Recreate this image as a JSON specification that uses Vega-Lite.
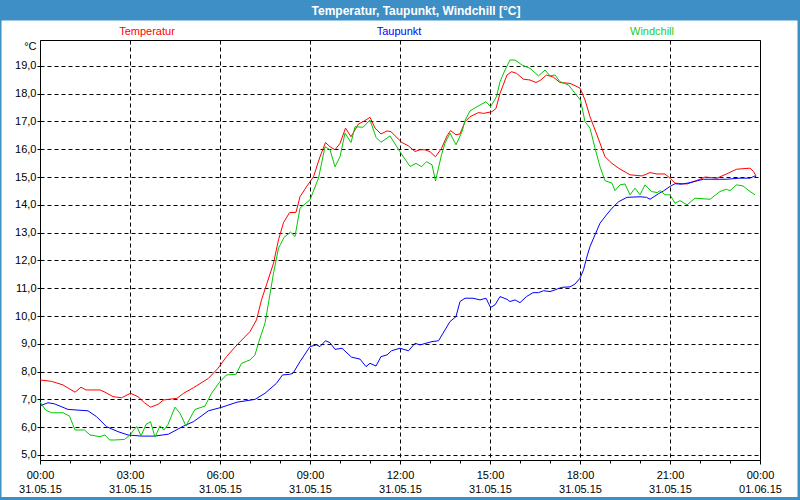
{
"$schema": "https://vega.github.io/schema/vega-lite/v6.json",
"width": 720, "height": 420,
"autosize": {"type": "none"},
"padding": {"left": 40, "top": 40, "right": 40, "bottom": 40},
"background": "#ffffff",
"config": {"view": {"stroke": "#000000", "strokeWidth": 1}, "font": "Liberation Sans"},
"datasets": {
"temps": [
{"t":"2015-05-31T00:00","s":"Temperatur","v":7.70},{"t":"2015-05-31T00:23","s":"Temperatur","v":7.65},{"t":"2015-05-31T00:46","s":"Temperatur","v":7.52},{"t":"2015-05-31T01:10","s":"Temperatur","v":7.26},{"t":"2015-05-31T01:22","s":"Temperatur","v":7.44},{"t":"2015-05-31T01:32","s":"Temperatur","v":7.34},{"t":"2015-05-31T02:00","s":"Temperatur","v":7.34},{"t":"2015-05-31T02:10","s":"Temperatur","v":7.26},{"t":"2015-05-31T02:26","s":"Temperatur","v":7.10},{"t":"2015-05-31T02:43","s":"Temperatur","v":7.06},{"t":"2015-05-31T03:01","s":"Temperatur","v":7.22},{"t":"2015-05-31T03:16","s":"Temperatur","v":7.10},{"t":"2015-05-31T03:29","s":"Temperatur","v":6.88},{"t":"2015-05-31T03:41","s":"Temperatur","v":6.72},{"t":"2015-05-31T03:56","s":"Temperatur","v":6.82},{"t":"2015-05-31T04:07","s":"Temperatur","v":6.98},{"t":"2015-05-31T04:34","s":"Temperatur","v":7.04},{"t":"2015-05-31T04:47","s":"Temperatur","v":7.22},{"t":"2015-05-31T05:07","s":"Temperatur","v":7.42},{"t":"2015-05-31T05:37","s":"Temperatur","v":7.76},{"t":"2015-05-31T05:56","s":"Temperatur","v":8.12},{"t":"2015-05-31T06:13","s":"Temperatur","v":8.54},{"t":"2015-05-31T06:34","s":"Temperatur","v":8.96},{"t":"2015-05-31T07:00","s":"Temperatur","v":9.44},{"t":"2015-05-31T07:13","s":"Temperatur","v":9.86},{"t":"2015-05-31T07:23","s":"Temperatur","v":10.58},{"t":"2015-05-31T07:34","s":"Temperatur","v":11.18},{"t":"2015-05-31T07:47","s":"Temperatur","v":11.90},{"t":"2015-05-31T07:57","s":"Temperatur","v":12.74},{"t":"2015-05-31T08:07","s":"Temperatur","v":13.36},{"t":"2015-05-31T08:19","s":"Temperatur","v":13.72},{"t":"2015-05-31T08:32","s":"Temperatur","v":13.73},{"t":"2015-05-31T08:40","s":"Temperatur","v":14.29},{"t":"2015-05-31T08:53","s":"Temperatur","v":14.65},{"t":"2015-05-31T09:07","s":"Temperatur","v":15.01},{"t":"2015-05-31T09:20","s":"Temperatur","v":15.73},{"t":"2015-05-31T09:31","s":"Temperatur","v":16.24},{"t":"2015-05-31T09:40","s":"Temperatur","v":16.09},{"t":"2015-05-31T09:50","s":"Temperatur","v":15.98},{"t":"2015-05-31T10:00","s":"Temperatur","v":16.21},{"t":"2015-05-31T10:11","s":"Temperatur","v":16.76},{"t":"2015-05-31T10:22","s":"Temperatur","v":16.45},{"t":"2015-05-31T10:37","s":"Temperatur","v":16.91},{"t":"2015-05-31T10:50","s":"Temperatur","v":17.03},{"t":"2015-05-31T11:00","s":"Temperatur","v":17.15},{"t":"2015-05-31T11:10","s":"Temperatur","v":16.76},{"t":"2015-05-31T11:22","s":"Temperatur","v":16.55},{"t":"2015-05-31T11:34","s":"Temperatur","v":16.66},{"t":"2015-05-31T11:42","s":"Temperatur","v":16.63},{"t":"2015-05-31T12:04","s":"Temperatur","v":16.24},{"t":"2015-05-31T12:17","s":"Temperatur","v":16.12},{"t":"2015-05-31T12:30","s":"Temperatur","v":15.92},{"t":"2015-05-31T12:40","s":"Temperatur","v":15.98},{"t":"2015-05-31T12:50","s":"Temperatur","v":15.98},{"t":"2015-05-31T13:00","s":"Temperatur","v":15.91},{"t":"2015-05-31T13:11","s":"Temperatur","v":15.73},{"t":"2015-05-31T13:23","s":"Temperatur","v":16.03},{"t":"2015-05-31T13:34","s":"Temperatur","v":16.48},{"t":"2015-05-31T13:41","s":"Temperatur","v":16.67},{"t":"2015-05-31T13:52","s":"Temperatur","v":16.52},{"t":"2015-05-31T14:00","s":"Temperatur","v":16.55},{"t":"2015-05-31T14:10","s":"Temperatur","v":16.99},{"t":"2015-05-31T14:20","s":"Temperatur","v":17.17},{"t":"2015-05-31T14:37","s":"Temperatur","v":17.32},{"t":"2015-05-31T14:47","s":"Temperatur","v":17.29},{"t":"2015-05-31T15:04","s":"Temperatur","v":17.35},{"t":"2015-05-31T15:12","s":"Temperatur","v":17.47},{"t":"2015-05-31T15:20","s":"Temperatur","v":18.01},{"t":"2015-05-31T15:34","s":"Temperatur","v":18.67},{"t":"2015-05-31T15:43","s":"Temperatur","v":18.79},{"t":"2015-05-31T15:53","s":"Temperatur","v":18.73},{"t":"2015-05-31T16:07","s":"Temperatur","v":18.52},{"t":"2015-05-31T16:20","s":"Temperatur","v":18.49},{"t":"2015-05-31T16:32","s":"Temperatur","v":18.40},{"t":"2015-05-31T16:40","s":"Temperatur","v":18.47},{"t":"2015-05-31T16:53","s":"Temperatur","v":18.67},{"t":"2015-05-31T17:07","s":"Temperatur","v":18.59},{"t":"2015-05-31T17:20","s":"Temperatur","v":18.40},{"t":"2015-05-31T17:40","s":"Temperatur","v":18.37},{"t":"2015-05-31T18:00","s":"Temperatur","v":18.20},{"t":"2015-05-31T18:10","s":"Temperatur","v":17.77},{"t":"2015-05-31T18:20","s":"Temperatur","v":17.17},{"t":"2015-05-31T18:34","s":"Temperatur","v":16.51},{"t":"2015-05-31T18:50","s":"Temperatur","v":15.73},{"t":"2015-05-31T19:04","s":"Temperatur","v":15.49},{"t":"2015-05-31T19:17","s":"Temperatur","v":15.32},{"t":"2015-05-31T19:40","s":"Temperatur","v":15.08},{"t":"2015-05-31T20:04","s":"Temperatur","v":15.04},{"t":"2015-05-31T20:20","s":"Temperatur","v":15.16},{"t":"2015-05-31T20:34","s":"Temperatur","v":15.11},{"t":"2015-05-31T20:50","s":"Temperatur","v":15.11},{"t":"2015-05-31T21:00","s":"Temperatur","v":14.96},{"t":"2015-05-31T21:10","s":"Temperatur","v":14.78},{"t":"2015-05-31T21:34","s":"Temperatur","v":14.75},{"t":"2015-05-31T22:00","s":"Temperatur","v":14.92},{"t":"2015-05-31T22:10","s":"Temperatur","v":15.00},{"t":"2015-05-31T22:34","s":"Temperatur","v":14.96},{"t":"2015-05-31T22:53","s":"Temperatur","v":15.11},{"t":"2015-05-31T23:13","s":"Temperatur","v":15.28},{"t":"2015-05-31T23:40","s":"Temperatur","v":15.32},{"t":"2015-05-31T23:47","s":"Temperatur","v":15.20},{"t":"2015-05-31T23:52","s":"Temperatur","v":15.04},
{"t":"2015-05-31T00:00","s":"Taupunkt","v":6.77},{"t":"2015-05-31T00:16","s":"Taupunkt","v":6.88},{"t":"2015-05-31T00:29","s":"Taupunkt","v":6.84},{"t":"2015-05-31T00:56","s":"Taupunkt","v":6.64},{"t":"2015-05-31T01:36","s":"Taupunkt","v":6.59},{"t":"2015-05-31T01:53","s":"Taupunkt","v":6.38},{"t":"2015-05-31T02:13","s":"Taupunkt","v":6.02},{"t":"2015-05-31T02:36","s":"Taupunkt","v":5.84},{"t":"2015-05-31T02:56","s":"Taupunkt","v":5.72},{"t":"2015-05-31T03:23","s":"Taupunkt","v":5.68},{"t":"2015-05-31T03:49","s":"Taupunkt","v":5.68},{"t":"2015-05-31T04:17","s":"Taupunkt","v":5.75},{"t":"2015-05-31T04:47","s":"Taupunkt","v":6.04},{"t":"2015-05-31T05:07","s":"Taupunkt","v":6.20},{"t":"2015-05-31T05:37","s":"Taupunkt","v":6.59},{"t":"2015-05-31T06:04","s":"Taupunkt","v":6.72},{"t":"2015-05-31T06:34","s":"Taupunkt","v":6.90},{"t":"2015-05-31T07:10","s":"Taupunkt","v":7.00},{"t":"2015-05-31T07:30","s":"Taupunkt","v":7.22},{"t":"2015-05-31T07:53","s":"Taupunkt","v":7.58},{"t":"2015-05-31T08:05","s":"Taupunkt","v":7.88},{"t":"2015-05-31T08:19","s":"Taupunkt","v":7.90},{"t":"2015-05-31T08:26","s":"Taupunkt","v":7.94},{"t":"2015-05-31T08:40","s":"Taupunkt","v":8.36},{"t":"2015-05-31T09:00","s":"Taupunkt","v":8.90},{"t":"2015-05-31T09:13","s":"Taupunkt","v":8.96},{"t":"2015-05-31T09:20","s":"Taupunkt","v":8.90},{"t":"2015-05-31T09:31","s":"Taupunkt","v":9.11},{"t":"2015-05-31T09:40","s":"Taupunkt","v":9.04},{"t":"2015-05-31T09:50","s":"Taupunkt","v":8.80},{"t":"2015-05-31T10:04","s":"Taupunkt","v":8.84},{"t":"2015-05-31T10:23","s":"Taupunkt","v":8.52},{"t":"2015-05-31T10:40","s":"Taupunkt","v":8.45},{"t":"2015-05-31T10:52","s":"Taupunkt","v":8.18},{"t":"2015-05-31T11:00","s":"Taupunkt","v":8.30},{"t":"2015-05-31T11:12","s":"Taupunkt","v":8.20},{"t":"2015-05-31T11:22","s":"Taupunkt","v":8.54},{"t":"2015-05-31T11:34","s":"Taupunkt","v":8.60},{"t":"2015-05-31T11:43","s":"Taupunkt","v":8.75},{"t":"2015-05-31T12:00","s":"Taupunkt","v":8.84},{"t":"2015-05-31T12:17","s":"Taupunkt","v":8.75},{"t":"2015-05-31T12:30","s":"Taupunkt","v":9.02},{"t":"2015-05-31T12:40","s":"Taupunkt","v":8.96},{"t":"2015-05-31T13:04","s":"Taupunkt","v":9.08},{"t":"2015-05-31T13:17","s":"Taupunkt","v":9.11},{"t":"2015-05-31T13:26","s":"Taupunkt","v":9.38},{"t":"2015-05-31T13:40","s":"Taupunkt","v":9.80},{"t":"2015-05-31T13:52","s":"Taupunkt","v":9.98},{"t":"2015-05-31T14:00","s":"Taupunkt","v":10.52},{"t":"2015-05-31T14:10","s":"Taupunkt","v":10.64},{"t":"2015-05-31T14:26","s":"Taupunkt","v":10.64},{"t":"2015-05-31T14:40","s":"Taupunkt","v":10.58},{"t":"2015-05-31T14:52","s":"Taupunkt","v":10.64},{"t":"2015-05-31T15:01","s":"Taupunkt","v":10.31},{"t":"2015-05-31T15:10","s":"Taupunkt","v":10.40},{"t":"2015-05-31T15:20","s":"Taupunkt","v":10.70},{"t":"2015-05-31T15:34","s":"Taupunkt","v":10.60},{"t":"2015-05-31T15:40","s":"Taupunkt","v":10.52},{"t":"2015-05-31T15:50","s":"Taupunkt","v":10.58},{"t":"2015-05-31T16:00","s":"Taupunkt","v":10.48},{"t":"2015-05-31T16:13","s":"Taupunkt","v":10.70},{"t":"2015-05-31T16:26","s":"Taupunkt","v":10.84},{"t":"2015-05-31T16:37","s":"Taupunkt","v":10.84},{"t":"2015-05-31T16:47","s":"Taupunkt","v":10.91},{"t":"2015-05-31T17:00","s":"Taupunkt","v":10.88},{"t":"2015-05-31T17:10","s":"Taupunkt","v":10.94},{"t":"2015-05-31T17:23","s":"Taupunkt","v":11.03},{"t":"2015-05-31T17:40","s":"Taupunkt","v":11.05},{"t":"2015-05-31T17:50","s":"Taupunkt","v":11.15},{"t":"2015-05-31T18:00","s":"Taupunkt","v":11.36},{"t":"2015-05-31T18:07","s":"Taupunkt","v":11.66},{"t":"2015-05-31T18:13","s":"Taupunkt","v":12.08},{"t":"2015-05-31T18:20","s":"Taupunkt","v":12.50},{"t":"2015-05-31T18:30","s":"Taupunkt","v":12.92},{"t":"2015-05-31T18:40","s":"Taupunkt","v":13.34},{"t":"2015-05-31T18:53","s":"Taupunkt","v":13.64},{"t":"2015-05-31T19:04","s":"Taupunkt","v":13.88},{"t":"2015-05-31T19:17","s":"Taupunkt","v":14.11},{"t":"2015-05-31T19:34","s":"Taupunkt","v":14.27},{"t":"2015-05-31T20:00","s":"Taupunkt","v":14.29},{"t":"2015-05-31T20:13","s":"Taupunkt","v":14.27},{"t":"2015-05-31T20:20","s":"Taupunkt","v":14.20},{"t":"2015-05-31T20:37","s":"Taupunkt","v":14.40},{"t":"2015-05-31T20:47","s":"Taupunkt","v":14.50},{"t":"2015-05-31T21:00","s":"Taupunkt","v":14.66},{"t":"2015-05-31T21:10","s":"Taupunkt","v":14.76},{"t":"2015-05-31T21:23","s":"Taupunkt","v":14.74},{"t":"2015-05-31T21:40","s":"Taupunkt","v":14.80},{"t":"2015-05-31T22:07","s":"Taupunkt","v":14.92},{"t":"2015-05-31T22:34","s":"Taupunkt","v":14.92},{"t":"2015-05-31T22:53","s":"Taupunkt","v":14.92},{"t":"2015-05-31T23:20","s":"Taupunkt","v":14.96},{"t":"2015-05-31T23:40","s":"Taupunkt","v":14.96},{"t":"2015-05-31T23:50","s":"Taupunkt","v":15.04},{"t":"2015-05-31T23:53","s":"Taupunkt","v":14.99},
{"t":"2015-05-31T00:00","s":"Windchill","v":6.91},{"t":"2015-05-31T00:11","s":"Windchill","v":6.62},{"t":"2015-05-31T00:23","s":"Windchill","v":6.52},{"t":"2015-05-31T00:46","s":"Windchill","v":6.52},{"t":"2015-05-31T00:59","s":"Windchill","v":6.40},{"t":"2015-05-31T01:10","s":"Windchill","v":5.90},{"t":"2015-05-31T01:29","s":"Windchill","v":5.90},{"t":"2015-05-31T01:40","s":"Windchill","v":5.72},{"t":"2015-05-31T02:00","s":"Windchill","v":5.66},{"t":"2015-05-31T02:10","s":"Windchill","v":5.72},{"t":"2015-05-31T02:19","s":"Windchill","v":5.54},{"t":"2015-05-31T02:29","s":"Windchill","v":5.54},{"t":"2015-05-31T02:49","s":"Windchill","v":5.56},{"t":"2015-05-31T03:00","s":"Windchill","v":5.72},{"t":"2015-05-31T03:10","s":"Windchill","v":5.96},{"t":"2015-05-31T03:14","s":"Windchill","v":6.02},{"t":"2015-05-31T03:22","s":"Windchill","v":5.68},{"t":"2015-05-31T03:32","s":"Windchill","v":6.10},{"t":"2015-05-31T03:41","s":"Windchill","v":6.20},{"t":"2015-05-31T03:50","s":"Windchill","v":5.64},{"t":"2015-05-31T04:00","s":"Windchill","v":6.05},{"t":"2015-05-31T04:08","s":"Windchill","v":5.90},{"t":"2015-05-31T04:16","s":"Windchill","v":6.10},{"t":"2015-05-31T04:30","s":"Windchill","v":6.72},{"t":"2015-05-31T04:40","s":"Windchill","v":6.50},{"t":"2015-05-31T04:52","s":"Windchill","v":6.04},{"t":"2015-05-31T05:00","s":"Windchill","v":6.32},{"t":"2015-05-31T05:10","s":"Windchill","v":6.64},{"t":"2015-05-31T05:30","s":"Windchill","v":6.76},{"t":"2015-05-31T05:43","s":"Windchill","v":7.22},{"t":"2015-05-31T06:00","s":"Windchill","v":7.64},{"t":"2015-05-31T06:13","s":"Windchill","v":7.88},{"t":"2015-05-31T06:32","s":"Windchill","v":7.90},{"t":"2015-05-31T06:43","s":"Windchill","v":8.30},{"t":"2015-05-31T07:00","s":"Windchill","v":8.42},{"t":"2015-05-31T07:10","s":"Windchill","v":8.60},{"t":"2015-05-31T07:17","s":"Windchill","v":9.04},{"t":"2015-05-31T07:30","s":"Windchill","v":9.74},{"t":"2015-05-31T07:38","s":"Windchill","v":10.58},{"t":"2015-05-31T07:47","s":"Windchill","v":11.54},{"t":"2015-05-31T07:57","s":"Windchill","v":12.44},{"t":"2015-05-31T08:08","s":"Windchill","v":12.83},{"t":"2015-05-31T08:21","s":"Windchill","v":13.02},{"t":"2015-05-31T08:30","s":"Windchill","v":12.86},{"t":"2015-05-31T08:40","s":"Windchill","v":13.88},{"t":"2015-05-31T09:00","s":"Windchill","v":14.18},{"t":"2015-05-31T09:17","s":"Windchill","v":14.96},{"t":"2015-05-31T09:30","s":"Windchill","v":16.09},{"t":"2015-05-31T09:40","s":"Windchill","v":15.98},{"t":"2015-05-31T09:50","s":"Windchill","v":15.37},{"t":"2015-05-31T10:00","s":"Windchill","v":15.73},{"t":"2015-05-31T10:10","s":"Windchill","v":16.58},{"t":"2015-05-31T10:22","s":"Windchill","v":16.24},{"t":"2015-05-31T10:30","s":"Windchill","v":16.81},{"t":"2015-05-31T10:46","s":"Windchill","v":16.79},{"t":"2015-05-31T11:00","s":"Windchill","v":17.05},{"t":"2015-05-31T11:12","s":"Windchill","v":16.43},{"t":"2015-05-31T11:22","s":"Windchill","v":16.25},{"t":"2015-05-31T11:40","s":"Windchill","v":16.48},{"t":"2015-05-31T12:00","s":"Windchill","v":15.91},{"t":"2015-05-31T12:20","s":"Windchill","v":15.38},{"t":"2015-05-31T12:32","s":"Windchill","v":15.49},{"t":"2015-05-31T12:43","s":"Windchill","v":15.37},{"t":"2015-05-31T12:53","s":"Windchill","v":15.55},{"t":"2015-05-31T13:04","s":"Windchill","v":15.44},{"t":"2015-05-31T13:11","s":"Windchill","v":14.86},{"t":"2015-05-31T13:23","s":"Windchill","v":15.80},{"t":"2015-05-31T13:30","s":"Windchill","v":16.22},{"t":"2015-05-31T13:40","s":"Windchill","v":16.58},{"t":"2015-05-31T13:52","s":"Windchill","v":16.16},{"t":"2015-05-31T14:04","s":"Windchill","v":16.63},{"t":"2015-05-31T14:10","s":"Windchill","v":17.03},{"t":"2015-05-31T14:20","s":"Windchill","v":17.38},{"t":"2015-05-31T14:34","s":"Windchill","v":17.53},{"t":"2015-05-31T14:52","s":"Windchill","v":17.71},{"t":"2015-05-31T15:01","s":"Windchill","v":17.53},{"t":"2015-05-31T15:13","s":"Windchill","v":17.89},{"t":"2015-05-31T15:20","s":"Windchill","v":18.43},{"t":"2015-05-31T15:30","s":"Windchill","v":18.85},{"t":"2015-05-31T15:40","s":"Windchill","v":19.21},{"t":"2015-05-31T15:50","s":"Windchill","v":19.21},{"t":"2015-05-31T16:04","s":"Windchill","v":19.03},{"t":"2015-05-31T16:20","s":"Windchill","v":18.91},{"t":"2015-05-31T16:37","s":"Windchill","v":18.64},{"t":"2015-05-31T16:50","s":"Windchill","v":18.85},{"t":"2015-05-31T17:00","s":"Windchill","v":18.64},{"t":"2015-05-31T17:10","s":"Windchill","v":18.67},{"t":"2015-05-31T17:20","s":"Windchill","v":18.43},{"t":"2015-05-31T17:37","s":"Windchill","v":18.31},{"t":"2015-05-31T17:50","s":"Windchill","v":18.01},{"t":"2015-05-31T18:01","s":"Windchill","v":17.77},{"t":"2015-05-31T18:10","s":"Windchill","v":16.99},{"t":"2015-05-31T18:20","s":"Windchill","v":16.76},{"t":"2015-05-31T18:30","s":"Windchill","v":16.04},{"t":"2015-05-31T18:40","s":"Windchill","v":15.37},{"t":"2015-05-31T18:50","s":"Windchill","v":14.87},{"t":"2015-05-31T19:04","s":"Windchill","v":14.78},{"t":"2015-05-31T19:10","s":"Windchill","v":14.51},{"t":"2015-05-31T19:20","s":"Windchill","v":14.72},{"t":"2015-05-31T19:30","s":"Windchill","v":14.75},{"t":"2015-05-31T19:40","s":"Windchill","v":14.36},{"t":"2015-05-31T19:50","s":"Windchill","v":14.60},{"t":"2015-05-31T20:00","s":"Windchill","v":14.36},{"t":"2015-05-31T20:10","s":"Windchill","v":14.72},{"t":"2015-05-31T20:23","s":"Windchill","v":14.48},{"t":"2015-05-31T20:34","s":"Windchill","v":14.44},{"t":"2015-05-31T20:40","s":"Windchill","v":14.51},{"t":"2015-05-31T20:50","s":"Windchill","v":14.36},{"t":"2015-05-31T21:00","s":"Windchill","v":14.36},{"t":"2015-05-31T21:10","s":"Windchill","v":14.06},{"t":"2015-05-31T21:20","s":"Windchill","v":14.15},{"t":"2015-05-31T21:34","s":"Windchill","v":14.00},{"t":"2015-05-31T21:50","s":"Windchill","v":14.24},{"t":"2015-05-31T22:20","s":"Windchill","v":14.20},{"t":"2015-05-31T22:40","s":"Windchill","v":14.48},{"t":"2015-05-31T22:53","s":"Windchill","v":14.56},{"t":"2015-05-31T23:00","s":"Windchill","v":14.51},{"t":"2015-05-31T23:13","s":"Windchill","v":14.72},{"t":"2015-05-31T23:26","s":"Windchill","v":14.68},{"t":"2015-05-31T23:40","s":"Windchill","v":14.48},{"t":"2015-05-31T23:50","s":"Windchill","v":14.36}
]
},
"layer": [
{
"data": {"values": [{}]},
"mark": {"type": "rect", "fill": "#3d8fc6", "stroke": null},
"encoding": {
"x": {"datum": {"year": 2015, "month": 5, "date": 30, "hours": 22, "minutes": 38}, "type": "temporal", "scale": {"domain": [{"year": 2015, "month": 5, "date": 31}, {"year": 2015, "month": 6, "date": 1}]}},
"x2": {"datum": {"year": 2015, "month": 6, "date": 1, "hours": 1, "minutes": 22}},
"y": {"datum": 21.41, "type": "quantitative", "scale": {"domain": [4.82, 19.93], "zero": false, "nice": false}},
"y2": {"datum": 20.632}
}
},
{
"data": {"values": [{}]},
"mark": {"type": "rect", "filled": false, "stroke": "#3d8fc6", "strokeWidth": 3},
"encoding": {
"x": {"datum": {"year": 2015, "month": 5, "date": 30, "hours": 22, "minutes": 40}, "type": "temporal", "scale": {"domain": [{"year": 2015, "month": 5, "date": 31}, {"year": 2015, "month": 6, "date": 1}]}},
"x2": {"datum": {"year": 2015, "month": 6, "date": 1, "hours": 1, "minutes": 18}},
"y": {"datum": 21.37, "type": "quantitative", "scale": {"domain": [4.82, 19.93], "zero": false, "nice": false}},
"y2": {"datum": 3.435}
}
},
{
"data": {"values": [{}]},
"mark": {"type": "text", "text": "Temperatur, Taupunkt, Windchill [°C]", "font": "Liberation Sans", "fontSize": 12, "fontWeight": "bold", "fill": "#ffffff", "align": "center", "baseline": "middle"},
"encoding": {
"x": {"datum": {"year": 2015, "month": 5, "date": 31, "hours": 12, "minutes": 32}, "type": "temporal"},
"y": {"datum": 20.973, "type": "quantitative"}
}
},
{
"data": {"values": [{}]},
"mark": {"type": "text", "text": "Temperatur", "font": "Liberation Sans", "fontSize": 11, "fill": "#ff0000", "align": "center", "baseline": "middle"},
"encoding": {
"x": {"datum": {"year": 2015, "month": 5, "date": 31, "hours": 3, "minutes": 34}, "type": "temporal"},
"y": {"datum": 20.218, "type": "quantitative"}
}
},
{
"data": {"values": [{}]},
"mark": {"type": "text", "text": "Taupunkt", "font": "Liberation Sans", "fontSize": 11, "fill": "#0000ff", "align": "center", "baseline": "middle"},
"encoding": {
"x": {"datum": {"year": 2015, "month": 5, "date": 31, "hours": 11, "minutes": 58}, "type": "temporal"},
"y": {"datum": 20.218, "type": "quantitative"}
}
},
{
"data": {"values": [{}]},
"mark": {"type": "text", "text": "Windchill", "font": "Liberation Sans", "fontSize": 11, "fill": "#22cc22", "align": "center", "baseline": "middle"},
"encoding": {
"x": {"datum": {"year": 2015, "month": 5, "date": 31, "hours": 20, "minutes": 24}, "type": "temporal"},
"y": {"datum": 20.218, "type": "quantitative"}
}
},
{
"data": {"name": "temps"},
"mark": {"type": "line", "strokeWidth": 1, "interpolate": "linear"},
"encoding": {
"x": {"field": "t", "type": "temporal",
"scale": {"domain": [{"year": 2015, "month": 5, "date": 31}, {"year": 2015, "month": 6, "date": 1}]},
"axis": {
"title": null, "domain": false, "tickCount": 100,
"values": [{"year":2015,"month":5,"date":31,"hours":0},{"year":2015,"month":5,"date":31,"hours":1},{"year":2015,"month":5,"date":31,"hours":2},{"year":2015,"month":5,"date":31,"hours":3},{"year":2015,"month":5,"date":31,"hours":4},{"year":2015,"month":5,"date":31,"hours":5},{"year":2015,"month":5,"date":31,"hours":6},{"year":2015,"month":5,"date":31,"hours":7},{"year":2015,"month":5,"date":31,"hours":8},{"year":2015,"month":5,"date":31,"hours":9},{"year":2015,"month":5,"date":31,"hours":10},{"year":2015,"month":5,"date":31,"hours":11},{"year":2015,"month":5,"date":31,"hours":12},{"year":2015,"month":5,"date":31,"hours":13},{"year":2015,"month":5,"date":31,"hours":14},{"year":2015,"month":5,"date":31,"hours":15},{"year":2015,"month":5,"date":31,"hours":16},{"year":2015,"month":5,"date":31,"hours":17},{"year":2015,"month":5,"date":31,"hours":18},{"year":2015,"month":5,"date":31,"hours":19},{"year":2015,"month":5,"date":31,"hours":20},{"year":2015,"month":5,"date":31,"hours":21},{"year":2015,"month":5,"date":31,"hours":22},{"year":2015,"month":5,"date":31,"hours":23},{"year":2015,"month":6,"date":1,"hours":0}],
"labelExpr": "hours(datum.value) % 3 === 0 ? [timeFormat(datum.value, '%H:%M'), timeFormat(datum.value, '%d.%m.%y')] : ''",
"labelOverlap": false, "labelFlush": false, "labelBound": false,
"labelFont": "Liberation Sans", "labelFontSize": 11, "labelColor": "#000000", "labelLineHeight": 14,
"labelBaseline": "top", "labelPadding": 5,
"tickColor": "#000000", "tickWidth": 1,
"tickSize": {"condition": {"test": "hours(datum.value) % 3 === 0", "value": 4}, "value": 3},
"grid": true, "gridColor": "#000000", "gridDash": [4, 3], "gridWidth": 1,
"gridOpacity": {"condition": {"test": "hours(datum.value) % 3 === 0", "value": 1}, "value": 0}
}
},
"y": {"field": "v", "type": "quantitative",
"scale": {"domain": [4.82, 19.93], "zero": false, "nice": false},
"axis": {
"values": [5, 6, 7, 8, 9, 10, 11, 12, 13, 14, 15, 16, 17, 18, 19], "tickCount": 100, "labelOverlap": false,
"labelExpr": "replace(format(datum.value, '.1f'), '.', ',')",
"title": "°C", "titleAngle": 0, "titleAlign": "right", "titleBaseline": "middle", "titleX": -4, "titleY": 6,
"titleFont": "Liberation Sans", "titleFontSize": 11, "titleFontWeight": "normal", "titleColor": "#000000",
"labelFont": "Liberation Sans", "labelFontSize": 11, "labelColor": "#000000", "labelPadding": 1,
"tickSize": 3, "tickColor": "#000000", "domain": false,
"grid": true, "gridColor": "#000000", "gridDash": [4, 3], "gridWidth": 1, "gridOpacity": 1
}
},
"color": {"field": "s", "type": "nominal",
"scale": {"domain": ["Temperatur", "Taupunkt", "Windchill"], "range": ["#ff0000", "#0000ff", "#00c800"]},
"legend": null}
}
}
]
}
